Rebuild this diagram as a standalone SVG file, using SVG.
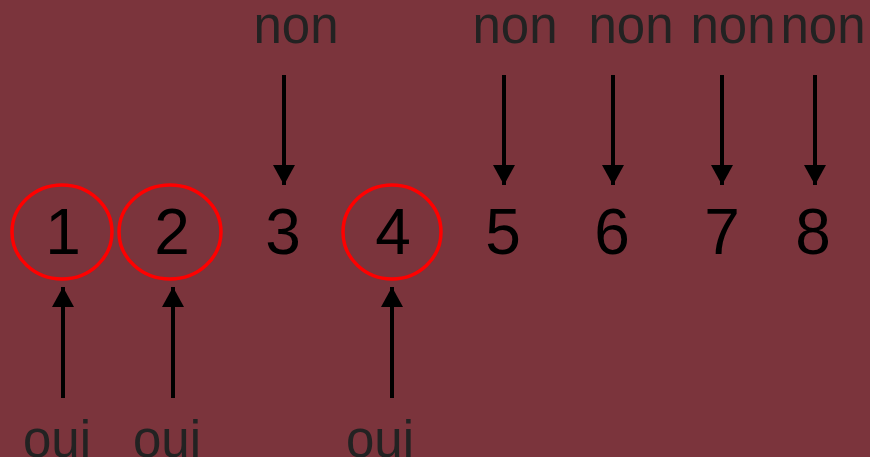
<svg xmlns="http://www.w3.org/2000/svg" width="870" height="457" viewBox="0 0 870 457">
<defs>
<marker id="ah" markerWidth="22" markerHeight="22" viewBox="0 0 22 22" refX="20" refY="11" orient="auto" markerUnits="userSpaceOnUse">
<path d="M0,0 L20,11 L0,22 Z" fill="#000"/>
</marker>
</defs>
<style>
.lbl{font-family:"Liberation Sans",Arial,sans-serif;font-size:51px;fill:#222;text-anchor:middle}
.num{font-family:"Liberation Sans",Arial,sans-serif;font-size:64px;fill:#000;text-anchor:middle}
.ring{fill:none;stroke:#ff0000;stroke-width:3.5}
.arr{stroke:#000;stroke-width:4;marker-end:url(#ah)}
</style>
<rect width="870" height="457" fill="#7b343c"/>
<g id="n1"><ellipse class="ring" cx="62" cy="232" rx="50" ry="47"/><text class="num" x="63" y="254">1</text></g>
<g id="n2"><ellipse class="ring" cx="170" cy="232" rx="51" ry="47"/><text class="num" x="172" y="254">2</text></g>
<g id="n3"><text class="num" x="283" y="254">3</text></g>
<g id="n4"><ellipse class="ring" cx="392" cy="232" rx="49" ry="47"/><text class="num" x="393" y="254">4</text></g>
<g id="n5"><text class="num" x="503" y="254">5</text></g>
<g id="n6"><text class="num" x="612" y="254">6</text></g>
<g id="n7"><text class="num" x="722" y="254">7</text></g>
<g id="n8"><text class="num" x="813" y="254">8</text></g>
<g id="labels">
<text class="lbl" x="296" y="43">non</text>
<text class="lbl" x="515" y="43">non</text>
<text class="lbl" x="631" y="43">non</text>
<text class="lbl" x="733" y="43">non</text>
<text class="lbl" x="823" y="43">non</text>
<text class="lbl" x="57" y="457">oui</text>
<text class="lbl" x="167" y="457">oui</text>
<text class="lbl" x="380" y="457">oui</text>
</g>
<g id="connectors">
<line class="arr" x1="284" y1="75" x2="284" y2="185"/>
<line class="arr" x1="504" y1="75" x2="504" y2="185"/>
<line class="arr" x1="613" y1="75" x2="613" y2="185"/>
<line class="arr" x1="722" y1="75" x2="722" y2="185"/>
<line class="arr" x1="815" y1="75" x2="815" y2="185"/>
<line class="arr" x1="63" y1="398" x2="63" y2="287"/>
<line class="arr" x1="173" y1="398" x2="173" y2="287"/>
<line class="arr" x1="392" y1="398" x2="392" y2="287"/>
</g>
</svg>
